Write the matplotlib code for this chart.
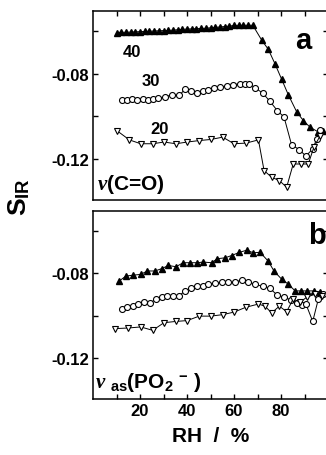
import numpy as np
import matplotlib
matplotlib.use("Agg")
import matplotlib.pyplot as plt
from matplotlib.ticker import FixedLocator

plt.rcParams['font.family'] = ['Liberation Sans', 'DejaVu Sans']
plt.rcParams['font.weight'] = 'bold'
plt.rcParams['mathtext.fontset'] = 'custom'
plt.rcParams['mathtext.rm'] = 'Liberation Sans:bold'
plt.rcParams['mathtext.bf'] = 'Liberation Sans:bold'
plt.rcParams['mathtext.it'] = 'Liberation Serif:italic'

# panel a: nu(C=O)
rh_a40 = [10, 12, 14, 16, 18, 20, 22, 24, 26, 28, 30, 32, 34, 36, 38, 40, 42, 44, 46, 48,
          50, 52, 54, 56, 58, 60, 62, 64, 66, 68,
          71.8, 74.6, 77.4, 80.3, 83.1, 86.7, 89.5, 92.3, 95.9, 98]
s_a40 = [-0.0607, -0.0606, -0.0606, -0.0605, -0.0604, -0.0603, -0.0602, -0.0601, -0.0600, -0.0599,
         -0.0598, -0.0597, -0.0596, -0.0594, -0.0592, -0.0591, -0.0590, -0.0589, -0.0588, -0.0587,
         -0.0585, -0.0583, -0.0581, -0.0579, -0.0577, -0.0574, -0.0573, -0.0573, -0.0573, -0.0573,
         -0.0643, -0.0686, -0.0753, -0.0827, -0.0899, -0.0980, -0.1020, -0.1051, -0.1074, -0.1067]

rh_a30 = [12.2, 14.3, 16.5, 18.6, 21.1, 23.5, 25.7, 27.8, 30.6, 33.5, 36.7, 39.1, 41.7, 44.1,
          46.7, 49.1, 51.5, 54.0, 56.9, 59.7, 62.6, 64.7, 66.5, 69.0, 72.2, 75.3, 78.4, 81.3,
          84.5, 87.7, 90.6, 93.5, 95.2, 96.6]
s_a30 = [-0.0922, -0.0922, -0.0921, -0.0922, -0.0921, -0.0922, -0.0918, -0.0914, -0.0910, -0.0899,
         -0.0902, -0.0874, -0.0883, -0.0891, -0.0883, -0.0875, -0.0867, -0.0863, -0.0858, -0.0852,
         -0.0847, -0.0847, -0.0847, -0.0867, -0.0891, -0.0930, -0.0973, -0.1004, -0.1134, -0.1156,
         -0.1187, -0.1153, -0.1106, -0.1064]

rh_a20 = [10.1, 15.5, 20.3, 25.4, 30.2, 35.3, 40.1, 45.2, 50.1, 55.2, 60.0, 65.1, 70.4,
          72.8, 76.0, 79.3, 82.4, 85.2, 88.4, 91.6, 94.0, 96.6]
s_a20 = [-0.1067, -0.1111, -0.1129, -0.1129, -0.1121, -0.1129, -0.1121, -0.1114, -0.1109, -0.1098,
         -0.1129, -0.1126, -0.1111, -0.1255, -0.1286, -0.1302, -0.1333, -0.1224, -0.1224, -0.1224,
         -0.1145, -0.1093]

# panel b: nu_as(PO2-)
rh_b40 = [11.2, 14.0, 16.9, 20.3, 23.1, 26.4, 29.2, 32.1, 35.3, 38.4, 41.3, 44.4, 46.9, 50.5,
          52.9, 56.2, 59.0, 62.3, 65.4, 68.2, 71.1, 74.6, 77.0, 80.3, 83.1, 86.0, 88.5, 91.2,
          94.2, 96.6]
s_b40 = [-0.0836, -0.0813, -0.0809, -0.0805, -0.0789, -0.0789, -0.0778, -0.0763, -0.0769, -0.0750,
         -0.0750, -0.0750, -0.0747, -0.0750, -0.0731, -0.0727, -0.0716, -0.0701, -0.0691, -0.0703,
         -0.0701, -0.0743, -0.0789, -0.0828, -0.0851, -0.0883, -0.0883, -0.0883, -0.0883, -0.0890]

rh_b30 = [12.2, 14.6, 16.9, 19.3, 21.7, 24.3, 26.8, 29.2, 31.6, 34.2, 36.7, 39.1, 41.6, 44.1,
          46.7, 49.1, 51.9, 54.8, 57.6, 60.4, 63.3, 66.1, 68.9, 72.2, 75.3, 78.4, 81.3, 84.1,
          86.7, 88.8, 90.6, 93.5, 95.9, 98.0]
s_b30 = [-0.0968, -0.0960, -0.0953, -0.0945, -0.0934, -0.0940, -0.0921, -0.0913, -0.0906, -0.0906,
         -0.0906, -0.0883, -0.0871, -0.0862, -0.0862, -0.0851, -0.0847, -0.0843, -0.0843, -0.0843,
         -0.0831, -0.0843, -0.0851, -0.0862, -0.0871, -0.0903, -0.0913, -0.0925, -0.0940, -0.0949,
         -0.0945, -0.1027, -0.0921, -0.0898]

rh_b20 = [9.4, 15.0, 20.3, 25.4, 30.2, 35.3, 40.1, 45.2, 50.1, 55.2, 60.0, 65.1, 70.4, 73.2,
          76.0, 79.3, 82.4, 85.2, 88.1, 90.9, 94.5, 97.3]
s_b20 = [-0.1061, -0.1058, -0.1053, -0.1069, -0.1033, -0.1027, -0.1023, -0.1002, -0.1002, -0.0995,
         -0.0983, -0.0960, -0.0945, -0.0955, -0.0987, -0.0955, -0.0981, -0.0921, -0.0937, -0.0913,
         -0.0898, -0.0906]

fig = plt.figure(figsize=(3.26, 4.56), dpi=100)
ax_a = fig.add_axes([93/326, 1-201/456, 235/326, 189/456])
ax_b = fig.add_axes([93/326, 1-400/456, 235/326, 188/456])


def draw(ax, x40, y40, x30, y30, x20, y20):
    kw = dict(color='black', lw=0.7)
    ax.plot(x40, y40, marker='^', ms=5, mfc='black', mec='black', **kw)
    ax.plot(x30, y30, marker='o', ms=4.3, mfc='white', mec='black', mew=0.8, **kw)
    ax.plot(x20, y20, marker='v', ms=5, mfc='white', mec='black', mew=0.8, **kw)
    ax.set_xlim(0, 100)
    ax.set_ylim(-0.1393, -0.0506)
    ax.yaxis.set_major_locator(FixedLocator([-0.12, -0.08]))
    ax.yaxis.set_minor_locator(FixedLocator([-0.10, -0.06]))
    ax.xaxis.set_major_locator(FixedLocator([20, 40, 60, 80]))
    ax.xaxis.set_minor_locator(FixedLocator([10, 30, 50, 70, 90]))
    ax.set_yticklabels(['-0.12', '-0.08'])
    for s in ax.spines.values():
        s.set_linewidth(1.1)
    ax.tick_params(which='both', direction='in', length=3.8, width=1.0,
                   labelsize=12, pad=3, right=True)


draw(ax_a, rh_a40, s_a40, rh_a30, s_a30, rh_a20, s_a20)
draw(ax_b, rh_b40, s_b40, rh_b30, s_b30, rh_b20, s_b20)

ax_a.tick_params(which='both', top=True, bottom=False, labelbottom=False)
ax_b.tick_params(which='both', top=False, bottom=True)
ax_b.set_xticklabels(['20', '40', '60', '80'])
ax_b.set_xlabel('RH  /  %', fontsize=15, fontweight='bold', labelpad=6)

fig.text(19/326, 1-197/456, r'$\mathbf{S}_{\mathbf{IR}}$', rotation=90, fontsize=19,
         ha='center', va='center')

ax_a.text(0.166, 0.788, '40', transform=ax_a.transAxes, fontsize=12, ha='center', va='center')
ax_a.text(0.247, 0.630, '30', transform=ax_a.transAxes, fontsize=12, ha='center', va='center')
ax_a.text(0.285, 0.376, '20', transform=ax_a.transAxes, fontsize=12, ha='center', va='center')
ax_a.text(0.894, 0.847, 'a', transform=ax_a.transAxes, fontsize=21, ha='center', va='center')
ax_b.text(0.952, 0.872, 'b', transform=ax_b.transAxes, fontsize=21, ha='center', va='center')

ax_a.text(0.017, 0.058, r'$\mathit{\nu}$(C=O)', transform=ax_a.transAxes, fontsize=15,
          ha='left', va='baseline')
ax_b.text(0.01, 0.064, r'$\mathit{\nu}$ $_{\mathrm{as}}$(PO$_{\mathrm{2}}$ $^{\mathrm{-}}$ )',
          transform=ax_b.transAxes, fontsize=15, ha='left', va='baseline')

fig.savefig('out.png', dpi=100)
